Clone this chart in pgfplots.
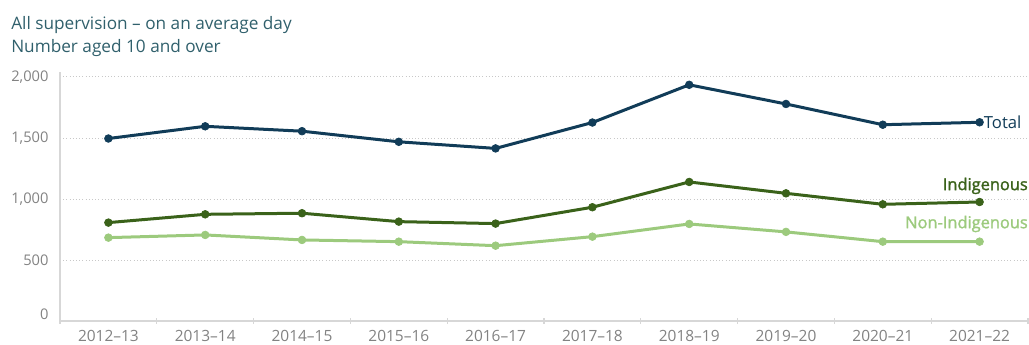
\documentclass[border=0pt]{standalone}
\usepackage{fontspec}
\setmainfont{Open Sans}
\newfontfamily\semib[FakeBold=1.6]{Open Sans}
\usepackage{pgfplots}
\pgfplotsset{compat=1.18}
\definecolor{totc}{RGB}{17,60,88}
\definecolor{indc}{RGB}{58,98,26}
\definecolor{nonc}{RGB}{156,202,125}
\definecolor{titc}{RGB}{48,96,108}
\definecolor{tickc}{RGB}{130,130,130}
\definecolor{gridc}{RGB}{200,200,200}
\definecolor{axc}{RGB}{215,215,215}
\begin{document}
\begin{tikzpicture}
\useasboundingbox (0,0) rectangle (771.75pt,258.75pt);
\node[anchor=base west, text=titc, font=\fontsize{12.9}{15}\selectfont, inner sep=0pt] at (8.25pt,236.25pt) {All supervision – on an average day};
\node[anchor=base west, text=titc, font=\fontsize{12.9}{15}\selectfont, inner sep=0pt] at (8.25pt,219pt) {Number aged 10 and over};
\begin{axis}[
  at={(45pt,18pt)}, anchor=south west,
  width=726pt, height=186.75pt, scale only axis,
  xmin=-0.5, xmax=9.5, ymin=0, ymax=2040,
  axis x line=bottom, axis y line=left,
  axis line style={-, draw=axc, line width=0.8pt},
  xtick={0,...,9},
  xticklabels={2012–13,2013–14,2014–15,2015–16,2016–17,2017–18,2018–19,2019–20,2020–21,2021–22},
  minor xtick={-0.5,0.5,...,9.5},
  major x tick style={draw=none},
  minor x tick style={draw=axc, line width=0.8pt},
  minor tick length=4pt,
  ytick={0,500,1000,1500,2000},
  yticklabels={\raisebox{10pt}{0},500,{1,000},{1,500},{2,000}},
  major y tick style={draw=none},
  ymajorgrids,
  grid style={dotted, draw=gridc, line width=0.6pt},
  tick label style={text=tickc, font=\fontsize{11}{13}\selectfont},
  yticklabel style={xshift=-3pt},
  xticklabel style={yshift=-1pt, font=\fontsize{11.6}{13}\selectfont},
  clip=false,
]
\addplot[color=nonc, line width=2.25pt, mark=*, mark size=2.9pt, mark options={line width=0.5pt}] coordinates {
(0,683) (1,705) (2,664) (3,650) (4,617) (5,691) (6,795) (7,730) (8,650) (9,650)};
\addplot[color=indc, line width=2.25pt, mark=*, mark size=2.9pt, mark options={line width=0.5pt}] coordinates {
(0,806) (1,874) (2,883) (3,814) (4,798) (5,932) (6,1139) (7,1046) (8,956) (9,975)};
\addplot[color=totc, line width=2.25pt, mark=*, mark size=2.9pt, mark options={line width=0.5pt}] coordinates {
(0,1495) (1,1595) (2,1555) (3,1468) (4,1414) (5,1626) (6,1935) (7,1778) (8,1608) (9,1628)};
\node[anchor=west, text=totc, font=\fontsize{12.5}{14}\selectfont, inner sep=0pt] at (axis cs:9,1628) {\hspace{3pt}Total};
\node[anchor=east, text=indc, font=\semib\fontsize{12.3}{14}\selectfont, inner sep=0pt] at (axis cs:9.5,1107) {Indigenous};
\node[anchor=east, text=nonc, font=\semib\fontsize{12.3}{14}\selectfont, inner sep=0pt] at (axis cs:9.5,795) {Non-Indigenous};
\end{axis}
\end{tikzpicture}
\end{document}
